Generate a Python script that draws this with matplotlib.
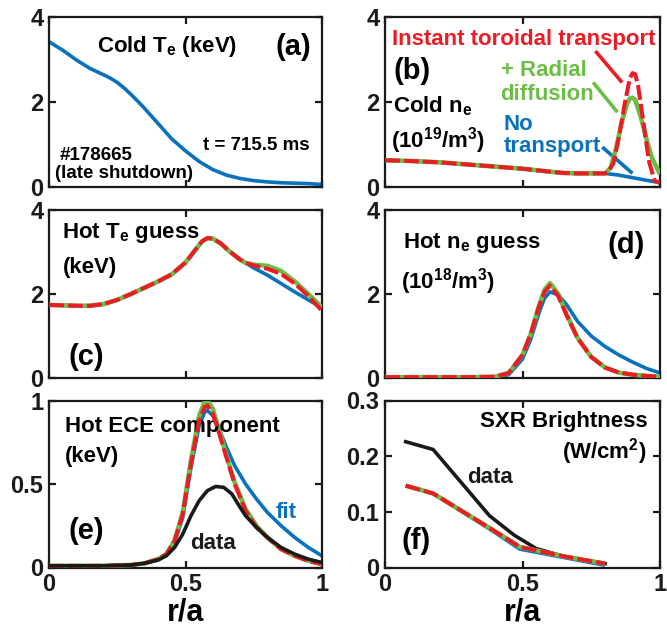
import matplotlib
matplotlib.use('Agg')
import matplotlib.pyplot as plt
from matplotlib import font_manager

# ---------------- data ----------------
# (a) cold Te
a_x = [0, 0.05, 0.1, 0.15, 0.2, 0.225, 0.25, 0.275, 0.3, 0.325, 0.35, 0.375, 0.4, 0.45, 0.5, 0.55,
       0.6, 0.65, 0.7, 0.75, 0.8, 0.85, 0.9, 0.95, 1.0]
a_te = [3.42, 3.22, 2.99, 2.79, 2.64, 2.56, 2.46, 2.33, 2.18, 2.02, 1.85, 1.67, 1.49, 1.13, 0.85, 0.6,
        0.41, 0.28, 0.2, 0.15, 0.12, 0.1, 0.09, 0.08, 0.06]

# (b) cold ne
b_x_common = [0, 0.1, 0.2, 0.3, 0.4, 0.5, 0.6, 0.65, 0.7, 0.75, 0.8]
b_common = [0.63, 0.61, 0.58, 0.53, 0.48, 0.43, 0.36, 0.33, 0.32, 0.32, 0.32]
b_x_blue = [0.85, 0.9, 0.95, 1.0]
b_blue = [0.28, 0.22, 0.16, 0.1]
b_x_green = [0.82, 0.84, 0.86, 0.88, 0.89, 0.9, 0.91, 0.93, 0.95, 0.97, 1.0]
b_green = [0.45, 0.9, 1.5, 1.95, 2.08, 2.1, 2.05, 1.65, 1.15, 0.7, 0.3]
b_x_red = [0.81, 0.83, 0.85, 0.87, 0.89, 0.9, 0.91, 0.92, 0.94, 0.96, 0.98, 1.0]
b_red = [0.34, 0.55, 1.15, 1.9, 2.55, 2.68, 2.65, 2.4, 1.5, 0.6, 0.15, 0.1]

# (c) hot Te guess
c_x_common = [0, 0.05, 0.1, 0.15, 0.2, 0.25, 0.3, 0.35, 0.4, 0.45, 0.5, 0.53, 0.56, 0.58, 0.6, 0.63, 0.66, 0.7, 0.72]
c_common = [1.74, 1.73, 1.72, 1.72, 1.76, 1.86, 2.0, 2.15, 2.3, 2.47, 2.75, 3.0, 3.25, 3.33, 3.32, 3.2, 3.02, 2.82, 2.74]
c_x_tail = [0.75, 0.8, 0.85, 0.9, 0.95, 1.0]
c_blue_tail = [2.62, 2.45, 2.25, 2.05, 1.86, 1.67]
c_green_tail = [2.7, 2.67, 2.55, 2.3, 2.0, 1.68]
c_red_tail = [2.68, 2.6, 2.48, 2.25, 1.95, 1.6]

# (d) hot ne guess
d_x = [0, 0.1, 0.2, 0.3, 0.4, 0.45, 0.5, 0.53, 0.56, 0.58, 0.6, 0.63, 0.66, 0.7, 0.75, 0.8, 0.85, 0.9, 0.95, 1.0]
d_red = [0.02, 0.02, 0.02, 0.02, 0.03, 0.12, 0.55, 1.05, 1.7, 2.05, 2.2, 1.95, 1.5, 0.95, 0.5, 0.25, 0.13, 0.08, 0.05, 0.03]
d_green = [0.02, 0.02, 0.02, 0.02, 0.03, 0.12, 0.55, 1.05, 1.72, 2.1, 2.26, 2.0, 1.52, 0.96, 0.5, 0.25, 0.13, 0.08, 0.05, 0.03]
d_blue = [0.0, 0.0, 0.0, 0.0, 0.01, 0.08, 0.45, 0.92, 1.55, 1.9, 2.05, 1.98, 1.75, 1.35, 1.0, 0.75, 0.55, 0.38, 0.23, 0.12]

# (e) hot ECE component
e_x = [0, 0.1, 0.2, 0.3, 0.35, 0.4, 0.43, 0.46, 0.49, 0.52, 0.55, 0.57, 0.58, 0.6, 0.62, 0.65, 0.68, 0.72, 0.76, 0.8, 0.85, 0.9, 0.95, 1.0]
e_red = [0.01, 0.01, 0.01, 0.015, 0.025, 0.05, 0.08, 0.16, 0.32, 0.62, 0.88, 0.96, 0.97, 0.92, 0.82, 0.66, 0.5, 0.34, 0.24, 0.18, 0.11, 0.07, 0.04, 0.02]
e_green = [0.01, 0.01, 0.01, 0.015, 0.025, 0.05, 0.08, 0.16, 0.33, 0.64, 0.91, 0.99, 1.0, 0.95, 0.84, 0.67, 0.51, 0.35, 0.25, 0.18, 0.11, 0.07, 0.04, 0.02]
e_blue = [0.01, 0.01, 0.01, 0.015, 0.025, 0.05, 0.08, 0.15, 0.3, 0.6, 0.85, 0.93, 0.94, 0.91, 0.84, 0.72, 0.61, 0.5, 0.41, 0.33, 0.25, 0.18, 0.12, 0.07]
e_x_data = [0, 0.1, 0.2, 0.3, 0.35, 0.4, 0.43, 0.46, 0.49, 0.52, 0.55, 0.58, 0.61, 0.64, 0.67, 0.7, 0.72, 0.76, 0.8, 0.85, 0.9, 0.95, 1.0]
e_data = [0.01, 0.01, 0.01, 0.015, 0.025, 0.045, 0.07, 0.12, 0.2, 0.31, 0.4, 0.46, 0.485, 0.48, 0.44, 0.36, 0.31, 0.24, 0.18, 0.12, 0.08, 0.05, 0.03]

# (f) SXR brightness
f_x = [0.075, 0.175, 0.39, 0.49, 0.65, 0.8]
f_red = [0.147, 0.133, 0.068, 0.037, 0.02, 0.007]
f_blue = [0.147, 0.133, 0.066, 0.033, 0.018, 0.004]
f_x_data = [0.075, 0.175, 0.38, 0.47, 0.55, 0.65, 0.8]
f_data = [0.226, 0.212, 0.093, 0.058, 0.034, 0.02, 0.007]

# annotation leader lines in panel (b)
lead_red = ([0.765, 0.862], [3.2, 2.46])
lead_green = ([0.757, 0.845], [2.46, 1.76])
lead_blue = ([0.79, 0.9], [0.94, 0.32])

# ---------------- style ----------------
names = {f.name for f in font_manager.fontManager.ttflist}
NARROW = 'Liberation Sans Narrow' if 'Liberation Sans Narrow' in names else 'Liberation Sans'
TXT = 'Liberation Sans'
plt.rcParams['font.family'] = [TXT, 'DejaVu Sans']
plt.rcParams['font.weight'] = 'bold'
plt.rcParams['mathtext.default'] = 'regular'

BLUE = '#0a72bc'
GREEN = '#6cbd45'
RED = '#ec1c24'
BLACK = '#1a1a1a'

fig = plt.figure(figsize=(6.67, 6.27), dpi=100)
L1, W1 = 49 / 667, 273 / 667
L2, W2 = 385 / 667, 275 / 667
rows = [(1 - 187 / 627, 170 / 627), (1 - 378 / 627, 168 / 627), (1 - 567.5 / 627, 167 / 627)]

axes = {}
for r, (bot, h) in enumerate(rows):
    axes[(r, 0)] = fig.add_axes([L1, bot, W1, h])
    axes[(r, 1)] = fig.add_axes([L2, bot, W2, h])

TICK_FS = 17
for (r, c), ax in axes.items():
    ax.set_xlim(0, 1)
    ax.set_xticks([0, 0.5, 1])
    for s in ax.spines.values():
        s.set_linewidth(1.6)
        s.set_color(BLACK)
    ax.tick_params(direction='in', length=5, width=1.6, top=True, right=True,
                   labelsize=TICK_FS, pad=4, colors=BLACK)
    if r < 2:
        ax.tick_params(labelbottom=False)
        ax.set_ylim(0, 4)
        ax.set_yticks([0, 2, 4])
        ax.set_yticklabels(['0', '2', '4'], fontfamily=NARROW, fontweight='bold', fontsize=TICK_FS)
    else:
        ax.set_xticklabels(['0', '0.5', '1'], fontfamily=NARROW, fontweight='bold', fontsize=TICK_FS)
        ax.set_xlabel('r/a', fontfamily=NARROW, fontweight='bold', fontsize=22, labelpad=1)

LW_B, LW_G, LW_R = 2.6, 3.3, 2.9
DASH = (3.7, 1.0)

def trio(ax, xb, yb, xg, yg, xr, yr):
    ax.plot(xb, yb, color=BLUE, lw=LW_B, solid_capstyle='butt', zorder=2)
    ax.plot(xg, yg, color=GREEN, lw=LW_G, solid_capstyle='butt', zorder=3)
    ax.plot(xr, yr, color=RED, lw=LW_R, dashes=DASH, dash_capstyle='butt', zorder=4)

FS = 16
SFS = 13.5
PFS = 21

# (a)
ax = axes[(0, 0)]
ax.plot(a_x, a_te, color=BLUE, lw=2.6)
ax.text(0.176, 3.18, 'Cold T$_e$ (keV)', fontsize=FS, ha='left', va='baseline')
ax.text(0.83, 3.3, '(a)', fontsize=PFS, fontfamily=NARROW, ha='left', va='center')
ax.text(0.956, 0.87, 't = 715.5 ms', fontsize=SFS, ha='right', va='baseline')
ax.text(0.04, 0.635, '#178665', fontsize=SFS, ha='left', va='baseline')
ax.text(0.022, 0.22, '(late shutdown)', fontsize=SFS, ha='left', va='baseline')

# (b)
ax = axes[(0, 1)]
trio(ax, b_x_common + b_x_blue, b_common + b_blue,
     b_x_common + b_x_green, b_common + b_green,
     b_x_common + b_x_red, b_common + b_red)
ax.set_ylim(0, 4)
ax.plot(*lead_red, color=RED, lw=2.6, solid_capstyle='butt')
ax.plot(*lead_green, color=GREEN, lw=2.6, solid_capstyle='butt')
ax.plot(*lead_blue, color=BLUE, lw=2.6, solid_capstyle='butt')
ax.text(0.504, 3.35, 'Instant toroidal transport', color=RED, fontsize=FS, ha='center', va='baseline')
ax.text(0.03, 2.73, '(b)', fontsize=PFS, fontfamily=NARROW, ha='left', va='center')
ax.text(0.03, 1.76, 'Cold n$_e$', fontsize=FS, ha='left', va='baseline')
ax.text(0.02, 0.94, '(10$^{19}$/m$^3$)', fontsize=FS, ha='left', va='baseline')
ax.text(0.42, 2.61, '+ Radial', color=GREEN, fontsize=FS, ha='left', va='baseline')
ax.text(0.42, 2.05, 'diffusion', color=GREEN, fontsize=FS, ha='left', va='baseline')
ax.text(0.43, 1.34, 'No', color=BLUE, fontsize=FS, ha='left', va='baseline')
ax.text(0.43, 0.82, 'transport', color=BLUE, fontsize=FS, ha='left', va='baseline')

# (c)
ax = axes[(1, 0)]
trio(ax, c_x_common + c_x_tail, c_common + c_blue_tail,
     c_x_common + c_x_tail, c_common + c_green_tail,
     c_x_common + c_x_tail, c_common + c_red_tail)
ax.set_ylim(0, 4)
ax.text(0.048, 3.33, 'Hot T$_e$ guess', fontsize=FS, ha='left', va='baseline')
ax.text(0.05, 2.5, '(keV)', fontsize=FS, ha='left', va='baseline')
ax.text(0.07, 0.5, '(c)', fontsize=PFS, fontfamily=NARROW, ha='left', va='center')

# (d)
ax = axes[(1, 1)]
trio(ax, d_x, d_blue, d_x, d_green, d_x, d_red)
ax.set_ylim(0, 4)
ax.text(0.065, 3.1, 'Hot n$_e$ guess', fontsize=FS, ha='left', va='baseline')
ax.text(0.058, 2.14, '(10$^{18}$/m$^3$)', fontsize=FS, ha='left', va='baseline')
ax.text(0.81, 3.17, '(d)', fontsize=PFS, fontfamily=NARROW, ha='left', va='center')

# (e)
ax = axes[(2, 0)]
trio(ax, e_x, e_blue, e_x, e_green, e_x, e_red)
ax.plot(e_x_data, e_data, color=BLACK, lw=2.6, zorder=5)
ax.set_ylim(0, 1)
ax.set_yticks([0, 0.5, 1])
ax.set_yticklabels(['0', '0.5', '1'], fontfamily=NARROW, fontweight='bold', fontsize=TICK_FS)
ax.text(0.059, 0.81, 'Hot ECE component', fontsize=FS, ha='left', va='baseline')
ax.text(0.059, 0.63, '(keV)', fontsize=FS, ha='left', va='baseline')
ax.text(0.07, 0.22, '(e)', fontsize=PFS, fontfamily=NARROW, ha='left', va='center')
ax.text(0.83, 0.295, 'fit', color=BLUE, fontsize=FS, ha='left', va='baseline')
ax.text(0.516, 0.108, 'data', color=BLACK, fontsize=FS, ha='left', va='baseline')

# (f)
ax = axes[(2, 1)]
trio(ax, f_x, f_blue, f_x, f_red, f_x, f_red)
ax.plot(f_x_data, f_data, color=BLACK, lw=2.6, zorder=1.5)
ax.set_ylim(0, 0.3)
ax.set_yticks([0, 0.1, 0.2, 0.3])
ax.set_yticklabels(['0', '0.1', '0.2', '0.3'], fontfamily=NARROW, fontweight='bold', fontsize=TICK_FS)
ax.text(0.956, 0.252, 'SXR Brightness', fontsize=FS, ha='right', va='baseline')
ax.text(0.95, 0.196, '(W/cm$^2$)', fontsize=FS, ha='right', va='baseline')
ax.text(0.30, 0.152, 'data', color=BLACK, fontsize=FS, ha='left', va='baseline')
ax.text(0.06, 0.047, '(f)', fontsize=PFS, fontfamily=NARROW, ha='left', va='center')

fig.savefig('out.png', dpi=100)
